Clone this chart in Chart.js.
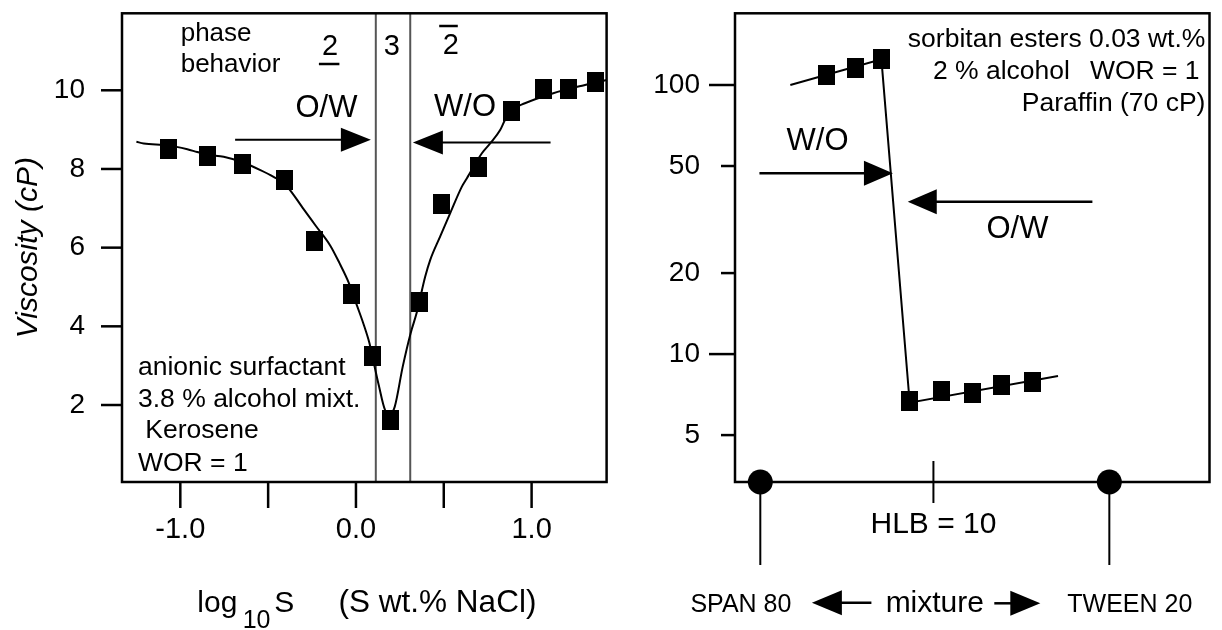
<!DOCTYPE html>
<html><head><meta charset="utf-8">
<script src="https://cdn.jsdelivr.net/npm/chart.js@4.4.1/dist/chart.umd.min.js"></script>
<style>
html,body{margin:0;padding:0;background:#fff;}
#wrap{position:relative;width:1222px;height:630px;overflow:hidden;background:#fff;}
#lbox{position:absolute;left:0;top:0;width:640px;height:630px;}
#rbox{position:absolute;left:640px;top:0;width:582px;height:630px;}
</style></head><body>
<div id="wrap"><div id="lbox"><canvas id="left"></canvas></div><div id="rbox"><canvas id="right"></canvas></div></div>
<script>
// ---------- Left panel: viscosity vs log10 salinity ----------
const saltLogS      = [-1.069, -0.843, -0.647, -0.405, -0.237, -0.026, 0.093, 0.199, 0.363, 0.486, 0.697, 0.888, 1.065, 1.209, 1.366];
const saltViscosity = [8.52, 8.34, 8.13, 7.72, 6.17, 4.82, 3.25, 1.62, 4.63, 7.11, 8.06, 9.47, 10.03, 10.03, 10.22];
const fitLogS      = [-1.25, -1.208, -1.07, -0.96, -0.904, -0.843, -0.753, -0.647, -0.544, -0.469, -0.405, -0.298, -0.228, -0.146, -0.093, -0.042, 0.008, 0.043, 0.077, 0.093, 0.13, 0.166, 0.195, 0.221, 0.266, 0.311, 0.345, 0.394, 0.423, 0.479, 0.536, 0.603, 0.631, 0.717, 0.764, 0.821, 0.849, 0.888, 0.962, 1.119, 1.299, 1.427];
const fitViscosity = [8.69, 8.65, 8.6, 8.5, 8.43, 8.36, 8.31, 8.17, 7.97, 7.8, 7.62, 6.98, 6.55, 6.05, 5.6, 5.12, 4.5, 4.06, 3.57, 3.25, 2.5, 1.87, 1.78, 1.96, 2.97, 3.82, 4.33, 5.26, 5.69, 6.28, 6.87, 7.55, 7.76, 8.4, 8.65, 8.99, 9.25, 9.5, 9.67, 9.92, 10.13, 10.26];
const phaseBoundaries = [0.113, 0.309];
const leftYTicks = [2, 4, 6, 8, 10];
const leftXTicks = [-1, -0.5, 0, 0.5, 1];
const leftXTickLabels = ['-1.0', '', '0.0', '', '1.0'];

// ---------- Right panel: viscosity vs surfactant mixture ----------
const mixFractionHigh = [0.191, 0.272, 0.347];
const viscosityHigh   = [108.9, 116.0, 124.6];
const mixFractionLow  = [0.428, 0.519, 0.609, 0.691, 0.781];
const viscosityLow    = [6.69, 7.31, 7.15, 7.68, 7.86];
const trendFraction   = [0.086, 0.347, 0.428, 0.853];
const trendViscosity  = [100, 124.6, 6.6, 8.29];
const pureSurfactantFraction = [0, 1];
const pureSurfactantNames = ['SPAN 80', 'TWEEN 20'];
const hlbTickFraction = [0.496];
const hlbTickLabels = ['HLB = 10'];
const rightYTicks = [5, 10, 20, 50, 100];

const FONT = '"Liberation Sans", Arial, Helvetica, sans-serif';
Chart.defaults.font.family = FONT;
Chart.defaults.color = '#000';

function xy(xs, ys) { return xs.map((x, i) => ({x: x, y: ys[i]})); }

function makeSquare(w, h) {
  const c = document.createElement('canvas'); c.width = w; c.height = h;
  const g = c.getContext('2d'); g.fillStyle = '#000'; g.fillRect(0, 0, w, h); return c;
}
const squareMark = makeSquare(17, 20);

function line(ctx, x1, y1, x2, y2) { ctx.beginPath(); ctx.moveTo(x1, y1); ctx.lineTo(x2, y2); ctx.stroke(); }
function arrow(ctx, xTail, xTip, y, headLen, headHalf, lw) {
  const dir = Math.sign(xTip - xTail);
  ctx.save(); ctx.strokeStyle = '#000'; ctx.fillStyle = '#000'; ctx.lineWidth = lw;
  line(ctx, xTail, y, xTip - dir * headLen * 0.6, y);
  ctx.beginPath(); ctx.moveTo(xTip, y); ctx.lineTo(xTip - dir * headLen, y - headHalf);
  ctx.lineTo(xTip - dir * headLen, y + headHalf); ctx.closePath(); ctx.fill();
  ctx.restore();
}
function text(ctx, s, x, y, size, align, style) {
  ctx.save(); ctx.fillStyle = '#000'; ctx.font = (style || '') + ' ' + size + 'px ' + FONT;
  ctx.textAlign = align || 'left'; ctx.textBaseline = 'alphabetic'; ctx.fillText(s, x, y); ctx.restore();
}

const leftDecor = {
  id: 'leftDecor',
  beforeDatasetsDraw(chart) {
    const {ctx, chartArea: a, scales: {x}} = chart;
    ctx.save(); ctx.strokeStyle = '#555'; ctx.lineWidth = 2;
    phaseBoundaries.forEach(v => { const px = x.getPixelForValue(v); line(ctx, px, a.top, px, a.bottom); });
    ctx.restore();
  },
  afterDatasetsDraw(chart) {
    const {ctx, chartArea: a, scales: {x, y}} = chart;
    ctx.save(); ctx.strokeStyle = '#000'; ctx.lineWidth = 2.5;
    ctx.strokeRect(a.left, a.top, a.right - a.left, a.bottom - a.top);
    leftYTicks.forEach(v => { const py = y.getPixelForValue(v); line(ctx, a.left - 21, py, a.left, py); });
    leftXTicks.forEach(v => { const px = x.getPixelForValue(v); line(ctx, px, a.bottom, px, a.bottom + 26); });
    ctx.restore();
    arrow(ctx, x.getPixelForValue(-0.688), x.getPixelForValue(0.085), y.getPixelForValue(8.74), 30, 12, 2);
    arrow(ctx, x.getPixelForValue(1.108), x.getPixelForValue(0.324), y.getPixelForValue(8.67), 30, 12, 2);
    text(ctx, 'phase', 180.7, 40.7, 26);
    text(ctx, 'behavior', 180.7, 71.7, 26);
    text(ctx, '2', 330.1, 55, 29, 'center');
    text(ctx, '3', 391.7, 55, 29, 'center');
    text(ctx, '2', 450.9, 54, 29, 'center');
    ctx.save(); ctx.strokeStyle = '#000'; ctx.lineWidth = 2.5;
    line(ctx, 318.9, 64, 339.4, 64); line(ctx, 439.2, 26, 457.8, 26); ctx.restore();
    text(ctx, 'O/W', 326.5, 116.7, 31, 'center');
    text(ctx, 'W/O', 465, 116, 31, 'center');
    text(ctx, 'anionic surfactant', 138, 375, 26.5);
    text(ctx, '3.8 % alcohol mixt.', 138, 406.7, 26.5);
    text(ctx, ' Kerosene', 138, 438.3, 26.5);
    text(ctx, 'WOR = 1', 138, 470.7, 26.5);
    text(ctx, 'log', 197.3, 611.7, 30);
    text(ctx, '10', 242.7, 628.3, 25);
    text(ctx, 'S', 274.3, 611.7, 30);
    text(ctx, '(S wt.% NaCl)', 338.6, 611.7, 31.5);
  }
};

new Chart(document.getElementById('left'), {
  type: 'scatter',
  data: { datasets: [
    { label: 'fit', data: xy(fitLogS, fitViscosity), showLine: true, borderColor: '#000', borderWidth: 2,
      pointRadius: 0, cubicInterpolationMode: 'monotone', order: 2 },
    { label: 'measured', data: xy(saltLogS, saltViscosity), showLine: false, pointStyle: squareMark,
      pointRadius: 10, backgroundColor: '#000', borderColor: '#000', order: 1 }
  ]},
  options: {
    animation: false, responsive: true, maintainAspectRatio: false, devicePixelRatio: 1,
    layout: { padding: { left: 0, right: 33.4, top: 13.3, bottom: 0 } },
    plugins: { legend: { display: false }, tooltip: { enabled: false } },
    scales: {
      x: { type: 'linear', position: 'bottom', min: -1.332, max: 1.427,
        grid: { display: false, drawTicks: false }, border: { display: false },
        afterBuildTicks: s => { s.ticks = leftXTicks.map(v => ({value: v})); },
        ticks: { padding: 31, font: { size: 29 }, color: '#000', autoSkip: false, maxRotation: 0,
          callback: (v, i) => leftXTickLabels[i] },
        afterFit: s => { s.height = 148; s.paddingLeft = 0; s.paddingRight = 0; }
      },
      y: { type: 'linear', min: 0.043, max: 11.957,
        grid: { display: false, drawTicks: false }, border: { display: false },
        afterBuildTicks: s => { s.ticks = leftYTicks.map(v => ({value: v})); },
        ticks: { padding: 37, font: { size: 28 }, color: '#000', callback: v => String(v) },
        title: { display: true, text: 'Viscosity (cP)', color: '#000', font: { size: 30, style: 'italic' }, padding: { top: 11, bottom: 0 } },
        afterFit: s => { s.width = 122; s.paddingTop = 0; s.paddingBottom = 0; }
      }
    }
  },
  plugins: [leftDecor]
});

const rightDecor = {
  id: 'rightDecor',
  afterDatasetsDraw(chart) {
    const {ctx, chartArea: a, scales: {x, y}} = chart;
    ctx.save(); ctx.strokeStyle = '#000'; ctx.lineWidth = 2.5;
    ctx.strokeRect(a.left, a.top, a.right - a.left, a.bottom - a.top);
    rightYTicks.forEach(v => {
      const py = y.getPixelForValue(v);
      const len = Math.abs(Math.log10(v) - Math.round(Math.log10(v))) < 1e-9 ? 26 : 14;
      line(ctx, a.left - len, py, a.left, py);
    });
    ctx.lineWidth = 2;
    hlbTickFraction.forEach(v => { const px = x.getPixelForValue(v); line(ctx, px, a.bottom - 21, px, a.bottom + 21); });
    pureSurfactantFraction.forEach(v => { const px = x.getPixelForValue(v); line(ctx, px, a.bottom, px, a.bottom + 83); });
    ctx.restore();
    arrow(ctx, x.getPixelForValue(-0.0025), x.getPixelForValue(0.380), y.getPixelForValue(46.98), 29, 12.5, 2.5);
    arrow(ctx, x.getPixelForValue(0.9515), x.getPixelForValue(0.4224), y.getPixelForValue(36.84), 29, 12.5, 2.5);
    text(ctx, 'sorbitan esters 0.03 wt.%', 565.4, 47.3, 26.5, 'right');
    text(ctx, '2 % alcohol', 292.9, 79, 26.5);
    text(ctx, 'WOR = 1', 559.6, 79, 26.5, 'right');
    text(ctx, 'Paraffin (70 cP)', 565.4, 110.7, 26.5, 'right');
    text(ctx, 'W/O', 177.5, 150, 31, 'center');
    text(ctx, 'O/W', 377.4, 238.3, 31, 'center');
    text(ctx, pureSurfactantNames[0], 100.9, 611.7, 25, 'center');
    text(ctx, 'mixture', 294.8, 611.7, 30, 'center');
    text(ctx, pureSurfactantNames[1], 489.8, 611.7, 25, 'center');
    arrow(ctx, 231.4, 171.9, 602.7, 30, 12.5, 2.5);
    arrow(ctx, 354.3, 400.3, 603.3, 30, 12.5, 2.5);
  }
};

new Chart(document.getElementById('right'), {
  type: 'scatter',
  data: { datasets: [
    { label: 'trend', data: xy(trendFraction, trendViscosity), showLine: true, borderColor: '#000', borderWidth: 2,
      pointRadius: 0, tension: 0, order: 3 },
    { label: 'W/O', data: xy(mixFractionHigh, viscosityHigh), showLine: false, pointStyle: squareMark,
      pointRadius: 10, backgroundColor: '#000', order: 1 },
    { label: 'O/W', data: xy(mixFractionLow, viscosityLow), showLine: false, pointStyle: squareMark,
      pointRadius: 10, backgroundColor: '#000', order: 1 },
    { label: 'pure', data: pureSurfactantFraction.map(v => ({x: v, y: 3.347})), showLine: false,
      pointStyle: 'circle', pointRadius: 12.5, backgroundColor: '#000', borderWidth: 0, clip: false, order: 0 }
  ]},
  options: {
    animation: false, responsive: true, maintainAspectRatio: false, devicePixelRatio: 1,
    layout: { padding: { left: 0, right: 1.5, top: 13.3, bottom: 0 } },
    plugins: { legend: { display: false }, tooltip: { enabled: false } },
    scales: {
      x: { type: 'linear', position: 'bottom', min: -0.0725, max: 1.287,
        grid: { display: false, drawTicks: false }, border: { display: false },
        afterBuildTicks: s => { s.ticks = hlbTickFraction.map(v => ({value: v})); },
        ticks: { padding: 25, font: { size: 30 }, color: '#000', autoSkip: false, maxRotation: 0,
          callback: (v, i) => hlbTickLabels[i] },
        afterFit: s => { s.height = 148; s.paddingLeft = 0; s.paddingRight = 0; }
      },
      y: { type: 'logarithmic', min: 3.347, max: 184.7,
        grid: { display: false, drawTicks: false }, border: { display: false },
        afterBuildTicks: s => { s.ticks = rightYTicks.map(v => ({value: v})); },
        ticks: { padding: 35, font: { size: 28 }, color: '#000', callback: v => String(v) },
        afterFit: s => { s.width = 95; s.paddingTop = 0; s.paddingBottom = 0; }
      }
    }
  },
  plugins: [rightDecor]
});
</script></body></html>
